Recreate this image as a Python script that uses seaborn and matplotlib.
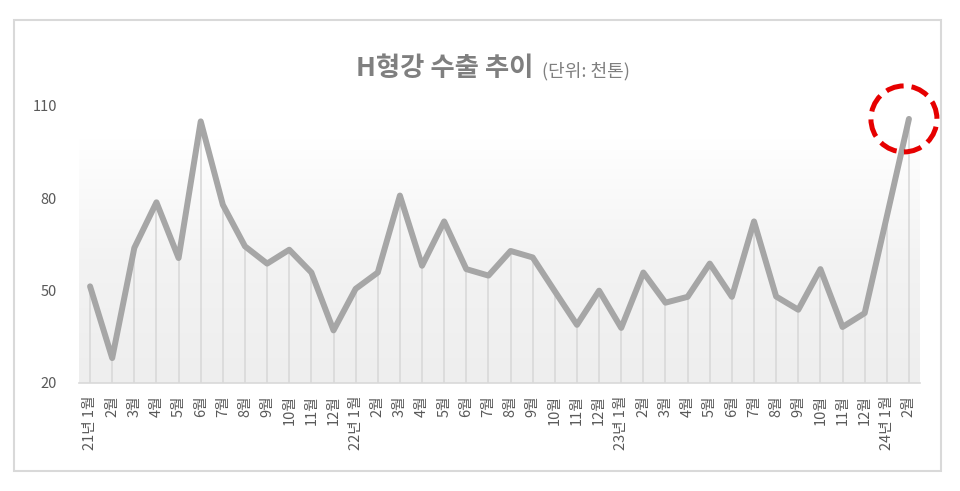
import numpy as np
import pandas as pd
import matplotlib
matplotlib.use("Agg")
import matplotlib.pyplot as plt
import matplotlib.patches as mpatches
import matplotlib.transforms as mtransforms
import seaborn as sns

# ---- data ----
years = [21] * 12 + [22] * 12 + [23] * 12 + [24] * 2
months = list(range(1, 13)) * 3 + [1, 2]
exports = [51.4, 28.1, 63.9, 78.7, 60.6, 105.0, 77.9, 64.4, 58.8, 63.3, 55.9, 37.1,
           50.6, 55.9, 80.9, 58.1, 72.5, 57.0, 54.9, 62.9, 60.8, 49.8, 38.9, 50.0,
           37.9, 55.9, 46.1, 48.0, 58.8, 48.0, 72.5, 48.1, 43.8, 57.0, 38.2, 42.7,
           74.1, 105.8]
tick_labels = [f"{y}년 {m}월" if m == 1 else f"{m}월" for y, m in zip(years, months)]
y_ticks = [20, 50, 80, 110]
title_main = "H형강 수출 추이"
title_unit = "(단위: 천톤)"

df = pd.DataFrame({"idx": np.arange(len(exports)), "value": exports, "label": tick_labels})

sns.set_theme(style="white")
plt.rcParams["font.family"] = ["Noto Sans CJK KR", "DejaVu Sans"]

fig = plt.figure(figsize=(9.6, 4.91), dpi=100)
fig.patch.set_facecolor("white")

# outer frame
fig.patches.append(mpatches.Rectangle((14 / 960, 1 - 471 / 491), (941 - 14) / 960, (471 - 20) / 491,
                                      transform=fig.transFigure, fill=False,
                                      edgecolor="#d9d9d9", linewidth=1.5, zorder=0))

ax = fig.add_axes([79 / 960, 1 - 383 / 491, (920 - 79) / 960, (383 - 106) / 491])
ax.set_xlim(-0.5, len(exports) - 0.5)
ax.set_ylim(y_ticks[0], y_ticks[-1])

# gradient background (white at top -> light grey lower down)
grad = np.linspace(0, 1, 512).reshape(-1, 1)
cmap = matplotlib.colors.LinearSegmentedColormap.from_list(
    "g", [(0.0, "#ffffff"), (0.12, "#ffffff"), (0.55, "#f3f3f3"), (1.0, "#eeeeee")])
ax.imshow(grad, extent=[-0.5, len(exports) - 0.5, y_ticks[0], y_ticks[-1]],
          origin="upper", aspect="auto", cmap=cmap, interpolation="bilinear", zorder=0)

# drop lines
ax.vlines(df["idx"], y_ticks[0], df["value"], color="#d9d9d9", linewidth=1.2, zorder=1)

sns.lineplot(data=df, x="idx", y="value", ax=ax, color="#a6a6a6", linewidth=4.3,
             solid_joinstyle="round", solid_capstyle="round", zorder=3)

ax.set_xlim(-0.5, len(exports) - 0.5)
ax.set_ylim(y_ticks[0], y_ticks[-1])

ax.set_xticks(df["idx"])
ax.set_xticklabels(tick_labels, rotation=90, fontsize=10.5, color="#595959")
ax.set_yticks(y_ticks)
ax.set_yticklabels([str(v) for v in y_ticks], fontsize=10.5, color="#595959")
ax.tick_params(axis="x", length=0, pad=9)
ax.tick_params(axis="y", length=0, pad=16)
ax.set_xlabel("")
ax.set_ylabel("")
for s in ["left", "top", "right"]:
    ax.spines[s].set_visible(False)
ax.spines["bottom"].set_color("#d9d9d9")
ax.spines["bottom"].set_linewidth(1.2)
ax.grid(False)

# red dashed circle around the last point
last_x, last_y = df["idx"].iloc[-1], df["value"].iloc[-1]
offset = mtransforms.ScaledTranslation(last_x, last_y, ax.transData)
circ = mpatches.Circle((-0.05, 0.0), 0.33, transform=fig.dpi_scale_trans + offset,
                       fill=False, edgecolor="#e60000", linewidth=3.6,
                       linestyle=(0, (3.6, 1.6)), clip_on=False, zorder=5)
ax.add_patch(circ)

# title
fig.text(533 / 960, 1 - 76 / 491, title_main, ha="right", va="baseline",
         fontsize=19, fontweight="bold", color="#7f7f7f")
fig.text(542 / 960, 1 - 76 / 491, title_unit, ha="left", va="baseline",
         fontsize=13, color="#7f7f7f")

fig.savefig("out.png", dpi=100, facecolor="white")
